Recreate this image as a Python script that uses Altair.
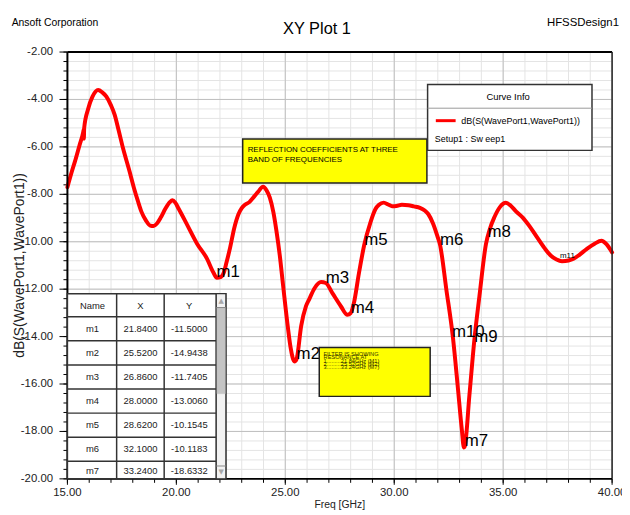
import altair as alt
import pandas as pd

FONT = "Liberation Sans, Arial, sans-serif"

# ---------------- data ----------------
freq = [15.00, 15.20, 15.35, 15.55, 15.72, 15.745, 15.755, 15.77, 15.95, 16.15,
        16.41, 16.60, 16.79, 17.00, 17.17, 17.35, 17.55, 17.85, 18.05, 18.23,
        18.40, 18.60, 18.80, 18.95, 19.10, 19.29, 19.50, 19.70, 19.82, 19.95,
        20.10, 20.42, 20.95, 21.41, 21.70, 21.86, 22.05, 22.17, 22.30, 22.47,
        22.65, 22.85, 23.00, 23.15, 23.35, 23.53, 23.75, 23.98, 24.15, 24.29,
        24.45, 24.59, 24.75, 24.90, 25.12, 25.25, 25.42, 25.52, 25.73, 25.95,
        26.10, 26.35, 26.64, 26.86, 27.17, 27.55, 27.85, 28.00, 28.15, 28.38,
        28.62, 28.91, 29.14, 29.30, 29.51, 29.75, 29.90, 30.10, 30.35, 30.65,
        30.90, 31.18, 31.40, 31.56, 31.79, 32.00, 32.10, 32.39, 32.70, 32.92,
        33.10, 33.20, 33.24, 33.45, 33.68, 33.91, 34.21, 34.40, 34.59, 34.85,
        35.12, 35.35, 35.60, 35.90, 36.20, 36.56, 36.90, 37.17, 37.45, 37.70,
        38.00, 38.23, 38.50, 38.83, 39.20, 39.51, 39.74, 40.00]
s11_db = [-7.70, -7.05, -6.60, -5.95, -5.40, -5.28, -5.65, -5.20, -4.40, -3.88,
          -3.60, -3.70, -3.88, -4.25, -4.65, -5.30, -6.05, -7.03, -7.72, -8.27,
          -8.74, -9.10, -9.32, -9.34, -9.24, -8.97, -8.60, -8.33, -8.25, -8.35,
          -8.60, -9.15, -10.08, -10.72, -11.30, -11.52, -11.48, -11.32, -10.88, -10.24,
          -9.45, -8.84, -8.58, -8.44, -8.33, -8.14, -7.90, -7.68, -7.85, -8.14,
          -8.74, -9.52, -10.60, -11.85, -13.62, -14.50, -15.05, -14.94, -13.55, -12.72,
          -12.42, -11.95, -11.70, -11.74, -12.18, -12.72, -13.08, -13.01, -12.58, -11.33,
          -10.15, -9.18, -8.62, -8.44, -8.35, -8.44, -8.50, -8.49, -8.44, -8.46,
          -8.51, -8.57, -8.68, -8.83, -9.25, -9.82, -10.12, -12.00, -14.08, -16.15,
          -17.90, -18.68, -18.63, -16.48, -14.12, -12.30, -10.10, -9.43, -8.98, -8.54,
          -8.36, -8.48, -8.73, -8.98, -9.33, -9.82, -10.27, -10.57, -10.75, -10.82,
          -10.79, -10.72, -10.55, -10.31, -10.08, -9.96, -10.10, -10.45]

marker_names = ["m1", "m2", "m3", "m4", "m5", "m6", "m7", "m8", "m9", "m10"]
marker_x = [21.84, 25.52, 26.86, 28.00, 28.62, 32.10, 33.24, 34.28, 33.67, 32.65]
marker_y = [-11.5000, -14.9438, -11.7405, -13.0060, -10.1545, -10.1183, -18.6332,
            -9.80, -14.24, -14.03]
small_marker_names = ["m11"]
small_marker_x = [37.61]
small_marker_y = [-10.69]

table_names = ["m1", "m2", "m3", "m4", "m5", "m6", "m7"]
table_x = [21.8400, 25.5200, 26.8600, 28.0000, 28.6200, 32.1000, 33.2400]
table_y = [-11.5000, -14.9438, -11.7405, -13.0060, -10.1545, -10.1183, -18.6332]

x_major = [15, 20, 25, 30, 35, 40]
y_major = [-2, -4, -6, -8, -10, -12, -14, -16, -18, -20]
x_minor = list(range(15, 41))
y_minor = [round(-20 + 0.4 * i, 2) for i in range(46)]

W, H = 550, 431
xs = alt.Scale(domain=[15, 40], nice=False, zero=False)
ys = alt.Scale(domain=[-20, -2], nice=False, zero=False)
one = pd.DataFrame({"a": [0]})


def X(f):
    return alt.X(f, scale=xs, axis=None)


def Y(f):
    return alt.Y(f, scale=ys, axis=None)


def box(x0, x1, y0, y1, fill, stroke="#222", sw=1.5):
    return alt.Chart(one).mark_rect(fill=fill, stroke=stroke, strokeWidth=sw).encode(
        x=alt.value(x0), x2=alt.value(x1), y=alt.value(y0), y2=alt.value(y1))


def seg(x0, x1, y0, y1, color="#222", sw=1.5):
    return alt.Chart(one).mark_rule(color=color, strokeWidth=sw).encode(
        x=alt.value(x0), x2=alt.value(x1), y=alt.value(y0), y2=alt.value(y1))


def txt(s, x, y, size, align="left", baseline="middle", angle=0, color="black", font=FONT):
    return alt.Chart(one).mark_text(text=s, align=align, baseline=baseline, font=font,
                                    fontSize=size, angle=angle, color=color).encode(
        x=alt.value(x), y=alt.value(y))


layers = []

# ---------- grid ----------
gx = pd.DataFrame({"v": x_minor})
gy = pd.DataFrame({"v": y_minor})
gX = pd.DataFrame({"v": x_major, "lab": [f"{v:.2f}" for v in x_major]})
gY = pd.DataFrame({"v": y_major, "lab": [f"{v:.2f}" for v in y_major]})
layers.append(alt.Chart(gx).mark_rule(color="#e4e4e4", strokeWidth=1).encode(
    x=X("v:Q"), y=alt.value(0), y2=alt.value(H)))
layers.append(alt.Chart(gy).mark_rule(color="#e4e4e4", strokeWidth=1).encode(
    y=Y("v:Q"), x=alt.value(0), x2=alt.value(W)))
layers.append(alt.Chart(gX).mark_rule(color="#bfbfbf", strokeWidth=1).encode(
    x=X("v:Q"), y=alt.value(0), y2=alt.value(H)))
layers.append(alt.Chart(gY).mark_rule(color="#bfbfbf", strokeWidth=1).encode(
    y=Y("v:Q"), x=alt.value(0), x2=alt.value(W)))

# ---------- axes (ticks, labels, frame) ----------
layers.append(alt.Chart(gx).mark_rule(color="black", strokeWidth=1).encode(
    x=X("v:Q"), y=alt.value(H), y2=alt.value(H + 4)))
layers.append(alt.Chart(gy).mark_rule(color="black", strokeWidth=1).encode(
    y=Y("v:Q"), x=alt.value(-4), x2=alt.value(0)))
layers.append(alt.Chart(gX).mark_rule(color="black", strokeWidth=1).encode(
    x=X("v:Q"), y=alt.value(H), y2=alt.value(H + 6)))
layers.append(alt.Chart(gY).mark_rule(color="black", strokeWidth=1).encode(
    y=Y("v:Q"), x=alt.value(-8), x2=alt.value(0)))
layers.append(alt.Chart(gX).mark_text(font=FONT, fontSize=11.5, color="#222",
                                      align="center", baseline="middle").encode(
    x=X("v:Q"), y=alt.value(H + 14.5), text="lab:N"))
layers.append(alt.Chart(gY).mark_text(font=FONT, fontSize=11.5, color="#222",
                                      align="right", baseline="middle").encode(
    y=Y("v:Q"), x=alt.value(-14.5), text="lab:N"))

# ---------- curve ----------
curve = pd.DataFrame({"freq": freq, "db": s11_db})
layers.append(alt.Chart(curve).mark_line(
    color="#ff0000", strokeWidth=4, interpolate="monotone", strokeCap="round", strokeJoin="round"
).encode(x=X("freq:Q"), y=Y("db:Q")))

# frame
layers.append(seg(0, W, 0, 0, "black", 2))
layers.append(seg(W, W, 0, H, "#222", 1.5))
layers.append(seg(0, 0, 0, H, "black", 2))
layers.append(seg(0, W, H, H, "black", 2))

# ---------- marker labels ----------
mk = pd.DataFrame({"name": marker_names, "mx": marker_x, "my": marker_y})
layers.append(alt.Chart(mk).mark_text(align="left", baseline="alphabetic", font=FONT,
                                      fontSize=17, color="black").encode(
    x=X("mx:Q"), y=Y("my:Q"), text="name:N"))
mk2 = pd.DataFrame({"name": small_marker_names, "mx": small_marker_x, "my": small_marker_y})
layers.append(alt.Chart(mk2).mark_text(align="left", baseline="alphabetic", font=FONT,
                                       fontSize=8, color="black").encode(
    x=X("mx:Q"), y=Y("my:Q"), text="name:N"))

# ---------- marker table ----------
TT, TB = 244, 431
layers.append(box(0, 160, TT, TB, "white", "#333", 1.5))
row_top = [267.3 + 24.33 * i for i in range(len(table_names))]
tbl = pd.DataFrame({
    "name": table_names,
    "xs": [f"{v:.4f}" for v in table_x],
    "ys": [f"{v:.4f}" for v in table_y],
    "line": row_top,
    "cy": [min(t + 12.2, 423.0) for t in row_top],
})
layers.append(alt.Chart(tbl).mark_rule(color="#333", strokeWidth=1.5).encode(
    x=alt.value(0), x2=alt.value(150.3), y=alt.Y("line:Q", scale=None, axis=None)))
for cx in [49.7, 97.7, 150.3]:
    layers.append(seg(cx, cx, TT, TB, "#333", 1.5))
for field, cx in [("name", 25.3), ("xs", 73.7), ("ys", 123.0)]:
    layers.append(alt.Chart(tbl).mark_text(font=FONT, fontSize=9.5, color="#222",
                                           align="center", baseline="middle").encode(
        x=alt.value(cx), y=alt.Y("cy:Q", scale=None, axis=None), text=f"{field}:N"))
layers.append(txt("Name", 25.3, 256, 9.5, align="center", color="#222"))
layers.append(txt("X", 73.7, 256, 9.5, align="center", color="#222"))
layers.append(txt("Y", 123.0, 256, 9.5, align="center", color="#222"))
# scrollbar
layers.append(box(150.3, 160, TT, TB, "#f2f2f2", "#333", 1.2))
layers.append(box(151, 159.3, 258, 345, "#c4c4c4", "#c4c4c4", 0.5))
layers.append(seg(150.3, 160, 258, 258, "#888", 1))
layers.append(seg(150.3, 160, 418, 418, "#888", 1))
layers.append(txt("\u25b2", 155.2, 251, 7, align="center", color="#a8a8a8", font="DejaVu Sans"))
layers.append(txt("\u25bc", 155.2, 424.5, 7, align="center", color="#a8a8a8", font="DejaVu Sans"))

# ---------- yellow notes ----------
layers.append(box(177, 363, 87.7, 132.3, "#ffff00", "#222", 1.5))
layers.append(txt("REFLECTION COEFFICIENTS AT THREE", 182, 99, 8))
layers.append(txt("BAND OF FREQUENCIES", 182, 109.5, 8))

layers.append(box(254.3, 366.3, 298.3, 347.7, "#ffff00", "#222", 1.5))
note2 = ["FILTER IS SHOWING", "RESONANCE AT", "1.........21.84GHz (M1)",
         "2.........25.52GHz (M2)", "3.........33.24GHz (M7)"]
for i, s in enumerate(note2):
    layers.append(txt(s, 258.7, 305 + 3.3 * i, 5.7, color="#333300"))

# ---------- curve info box ----------
layers.append(box(363.7, 529.7, 32.7, 99.3, "white", "#333", 1.5))
layers.append(seg(363.7, 529.7, 56.7, 56.7, "#999", 1))
layers.append(txt("Curve Info", 445, 45, 9.5, align="center"))
layers.append(seg(372, 392, 69.3, 69.3, "#ff0000", 3))
layers.append(txt("dB(S(WavePort1,WavePort1))", 397.7, 69.3, 9))
layers.append(txt("Setup1 : Sw eep1", 371, 88, 9))

# ---------- header texts ----------
layers.append(txt("Ansoft Corporation", -56.3, -26, 10.5, baseline="alphabetic"))
layers.append(txt("XY Plot 1", 252, -18.5, 16.5, align="center", baseline="alphabetic"))
layers.append(txt("HFSSDesign1", 557, -26, 11.5, align="right", baseline="alphabetic"))
layers.append(txt("dB(S(WavePort1,WavePort1))", -48, H / 2, 14, align="center",
                  angle=270, color="#222"))
layers.append(txt("Freq [GHz]", W / 2, H + 26.5, 10.5, align="center", color="#222"))

chart = alt.layer(*layers).properties(
    width=W, height=H,
    padding={"left": 60, "top": 42, "right": 10, "bottom": 32},
    autosize=alt.AutoSizeParams(type="none"),
).configure_view(stroke=None)

chart.save("out.html", embed_options={"renderer": "svg", "actions": False})
